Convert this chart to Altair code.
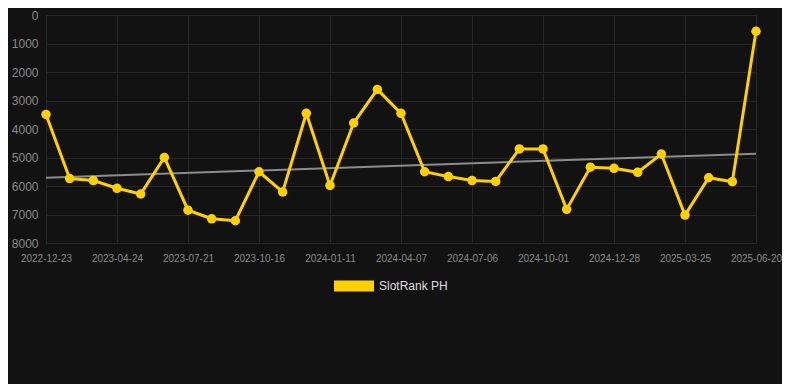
import altair as alt
import pandas as pd

dates = [
    "2022-12-23", "2023-02-02", "2023-03-25", "2023-04-24", "2023-05-23", "2023-06-22",
    "2023-07-21", "2023-08-19", "2023-09-17", "2023-10-16", "2023-11-14", "2023-12-13",
    "2024-01-11", "2024-02-09", "2024-03-09", "2024-04-07", "2024-05-06", "2024-06-06",
    "2024-07-06", "2024-08-04", "2024-09-02", "2024-10-01", "2024-10-30", "2024-11-28",
    "2024-12-28", "2025-01-26", "2025-02-24", "2025-03-25", "2025-04-23", "2025-05-22",
    "2025-06-20",
]
ranks = [
    3490, 5740, 5810, 6080, 6280, 5000, 6850, 7150, 7220, 5500,
    6210, 3450, 5980, 3790, 2610, 3450, 5500, 5670, 5810, 5840,
    4700, 4700, 6820, 5340, 5380, 5520, 4880, 7020, 5710, 5850,
    570,
]
series_name = "SlotRank PH"
y_ticks = [0, 1000, 2000, 3000, 4000, 5000, 6000, 7000, 8000]

df = pd.DataFrame({
    "idx": list(range(len(dates))),
    "date": dates,
    "rank": ranks,
    "series": [series_name] * len(dates),
})

label_values = list(range(0, len(dates), 3))
label_expr = "[" + ",".join("'%s'" % d for d in dates) + "][datum.value]"

x_enc = alt.X(
    "idx:Q",
    scale=alt.Scale(domain=[0, len(dates) - 1], nice=False, zero=False),
    axis=alt.Axis(
        values=label_values, labelExpr=label_expr, title=None,
        labelColor="#8a8a8a", labelFontSize=10, labelPadding=10,
        ticks=False, domain=False, grid=True, gridColor="#262626",
        labelFont="Liberation Sans", labelOverlap=False, labelFlush=False,
    ),
)
y_enc = alt.Y(
    "rank:Q",
    scale=alt.Scale(domain=[0, 8000], reverse=True, nice=False),
    axis=alt.Axis(
        values=y_ticks, format="d", title=None, labelColor="#8a8a8a", labelFontSize=12,
        labelPadding=8, ticks=False, domain=False, grid=True, gridColor="#262626",
        labelFont="Liberation Sans", labelOverlap=False, labelFlush=False,
    ),
)

base = alt.Chart(df)

trend = base.transform_regression("idx", "rank").mark_line(
    color="#8c8c8c", strokeWidth=2
).encode(x=x_enc, y=y_enc)

line = base.mark_line(color="#FFD000", strokeWidth=3).encode(x=x_enc, y=y_enc)

points = base.mark_circle(size=90, opacity=1).encode(
    x=x_enc,
    y=y_enc,
    color=alt.Color(
        "series:N",
        scale=alt.Scale(domain=[series_name], range=["#FFD000"]),
        legend=alt.Legend(
            title=None, orient="none", direction="horizontal",
            legendX=287, legendY=250,
            symbolType="M-1,-0.275L1,-0.275L1,0.275L-1,0.275Z",
            symbolSize=1600, labelColor="#dddddd", labelFontSize=12,
            labelFont="Liberation Sans", symbolOpacity=1,
        ),
    ),
)

chart = (
    alt.layer(trend, line, points)
    .properties(
        width=710, height=228, background="#121212",
        autosize=alt.AutoSizeParams(type="none"),
        padding={"left": 38, "top": 7, "right": 26, "bottom": 141},
    )
    .configure_view(stroke=None)
)

chart.save("out.html", embed_options={"renderer": "svg", "actions": False})
